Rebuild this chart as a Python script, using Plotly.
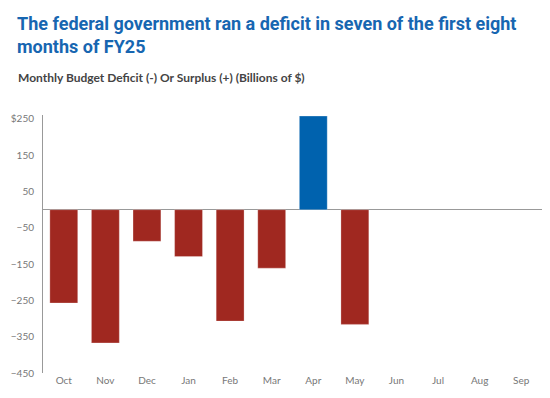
import plotly.graph_objects as go

months = ["Oct", "Nov", "Dec", "Jan", "Feb", "Mar", "Apr", "May", "Jun", "Jul", "Aug", "Sep"]
balance = [-257, -367, -87, -129, -307, -161, 258, -316, None, None, None, None]
tick_vals = [250, 150, 50, -50, -150, -250, -350, -450]
tick_text = ["$250", "150", "50", "−50", "−150", "−250", "−350", "−450"]

RED = "#A02820"
BLUE = "#0062AE"
colors = [BLUE if (v is not None and v > 0) else RED for v in balance]

W, H = 550, 398
ML, MR, MT, MB = 43, 8, 115, 25

fig = go.Figure()
fig.add_trace(go.Bar(
    x=months, y=balance,
    marker=dict(color=colors, line=dict(color="rgba(255,255,255,0.5)", width=0.5)),
    hoverinfo="x+y",
))

plot_h = H - MT - MB
plot_w = W - ML - MR
def px_x(px):
    return (px - ML) / plot_w
def px_y(py):
    return (H - MB - py) / plot_h

fig.update_layout(
    width=W, height=H,
    margin=dict(l=ML, r=MR, t=MT, b=MB),
    paper_bgcolor="white", plot_bgcolor="white",
    bargap=0.33,
    showlegend=False,
    font=dict(family="Lato, 'Open Sans', sans-serif", color="#666666", size=10),
    xaxis=dict(
        type="category", categoryorder="array", categoryarray=months,
        showline=False, showgrid=False, ticks="", zeroline=False,
        tickfont=dict(size=10, color="#777777"),
    ),
    yaxis=dict(
        range=[-450, 261], tickmode="array", tickvals=tick_vals, ticktext=tick_text,
        showgrid=False, showline=True, linecolor="#999999", linewidth=1,
        zeroline=True, zerolinecolor="#999999", zerolinewidth=1,
        ticks="", ticklabelstandoff=6,
        tickfont=dict(size=10, color="#777777"),
    ),
)

fig.add_annotation(
    text="The federal government ran a deficit in seven of the first eight<br>months of FY25",
    x=px_x(15), y=px_y(11), xref="paper", yref="paper", showarrow=False,
    xanchor="left", yanchor="top", align="left",
    font=dict(family="Roboto, 'Liberation Sans Narrow', sans-serif",
              size=18, color="#1766B1", weight="bold"),
)
fig.add_annotation(
    text="Monthly Budget Deficit (-) Or Surplus (+) (Billions of $)",
    x=px_x(16), y=px_y(68), xref="paper", yref="paper", showarrow=False,
    xanchor="left", yanchor="top", align="left",
    font=dict(family="Lato, 'Open Sans', sans-serif", size=12, color="#444444", weight="bold"),
)

fig.write_html("out.html", config={"displayModeBar": False},
               post_script="document.body.style.margin='0';")
